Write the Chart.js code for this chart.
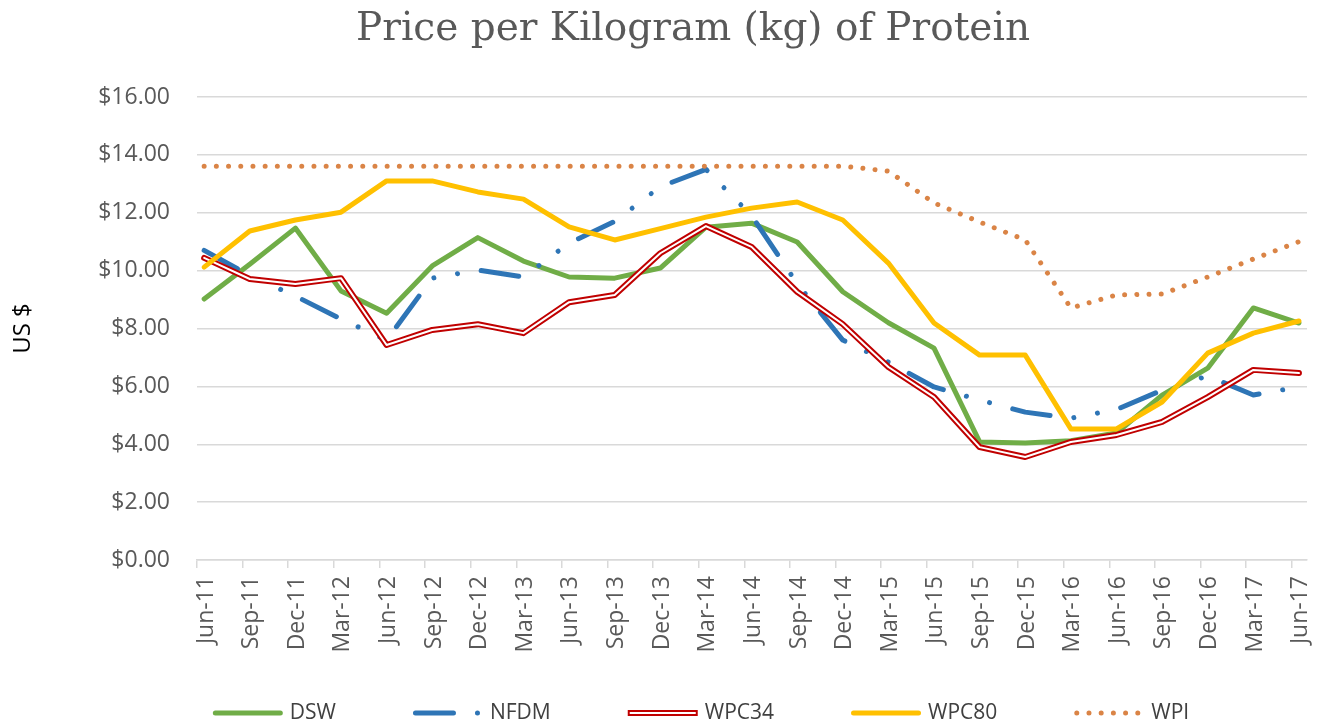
<!DOCTYPE html>
<html>
<head>
<meta charset="utf-8">
<title>Price per Kilogram (kg) of Protein</title>
<script src="https://cdn.jsdelivr.net/npm/chart.js@4.4.1/dist/chart.umd.min.js"></script>
<style>
  html, body { margin: 0; padding: 0; background: #fff; }
</style>
</head>
<body>
<canvas id="proteinChart" width="1320" height="726"></canvas>
<script>
const chartTitle = "Price per Kilogram (kg) of Protein";
const quarters = ["Jun-11", "Sep-11", "Dec-11", "Mar-12", "Jun-12", "Sep-12", "Dec-12", "Mar-13",
    "Jun-13", "Sep-13", "Dec-13", "Mar-14", "Jun-14", "Sep-14", "Dec-14", "Mar-15", "Jun-15",
    "Sep-15", "Dec-15", "Mar-16", "Jun-16", "Sep-16", "Dec-16", "Mar-17", "Jun-17"];
const yTicks = [0, 2, 4, 6, 8, 10, 12, 14, 16];

const dsw = [9.02, 10.22, 11.47, 9.30, 8.53, 10.16, 11.14, 10.33, 9.78, 9.74, 10.09, 11.50, 11.64,
    10.99, 9.27, 8.20, 7.32, 4.08, 4.04, 4.12, 4.39, 5.70, 6.63, 8.71, 8.19];
const nfdm = [10.70, 9.83, 9.12, 8.33, 7.60, 9.74, 10.02, 9.78, 10.95, 11.70, 12.90, 13.50, 11.90,
    9.55, 7.60, 6.84, 5.98, 5.53, 5.11, 4.90, 5.20, 5.87, 6.36, 5.70, 5.98];
const wpc34 = [10.44, 9.71, 9.54, 9.74, 7.43, 7.95, 8.15, 7.84, 8.91, 9.16, 10.60, 11.54, 10.82,
    9.27, 8.15, 6.67, 5.63, 3.90, 3.56, 4.08, 4.32, 4.77, 5.63, 6.57, 6.46];
const wpc80 = [10.12, 11.37, 11.75, 12.02, 13.10, 13.10, 12.72, 12.47, 11.51, 11.06, 11.45, 11.85,
    12.16, 12.37, 11.75, 10.26, 8.19, 7.08, 7.08, 4.53, 4.53, 5.46, 7.15, 7.84, 8.26];
const wpi = [13.61, 13.61, 13.61, 13.61, 13.61, 13.61, 13.61, 13.61, 13.61, 13.61, 13.61, 13.61,
    13.61, 13.61, 13.61, 13.44, 12.34, 11.68, 11.06, 8.71, 9.16, 9.19, 9.78, 10.40, 11.00];

// x axis counts months from Jun 2011; each value is dated mid-month of its quarter
const monthsPerQuarter = 3;
const midMonth = 0.47;
const toPoints = (values) => values.map((v, i) => ({ x: i * monthsPerQuarter + midMonth, y: v }));

const titlePlugin = {
    id: "excelTitle",
    afterDraw(chart) {
        const ctx = chart.ctx;
        ctx.save();
        ctx.font = '39px "DejaVu Serif"';
        ctx.fillStyle = "#595959";
        ctx.textAlign = "center";
        ctx.textBaseline = "alphabetic";
        ctx.fillText(chartTitle, 693, 40);
        ctx.restore();
    }
};

const legendPlugin = {
    id: "lineLegend",
    afterDraw(chart) {
        const ctx = chart.ctx;
        const sets = chart.data.datasets;
        const items = sets.filter(d => !d.helper);
        const sample = 70, textGap = 7, itemGap = 77, y = 713;
        ctx.save();
        ctx.font = '21px "Open Sans"';
        const widths = items.map(d => sample + textGap + ctx.measureText(d.label).width);
        const total = widths.reduce((a, b) => a + b, 0) + itemGap * (items.length - 1);
        let x = 701 - total / 2;
        items.forEach((d, i) => {
            const inner = sets.find(s => s.helper && s.label === d.label);
            const w = d.borderWidth;
            ctx.setLineDash(d.borderDash || []);
            ctx.lineWidth = w;
            ctx.strokeStyle = d.borderColor;
            ctx.lineCap = inner ? "butt" : "round";
            ctx.beginPath();
            ctx.moveTo(x + (inner ? 0 : w / 2), y);
            ctx.lineTo(x + sample - (inner ? 0 : w / 2), y);
            ctx.stroke();
            if (inner) {
                ctx.lineWidth = inner.borderWidth;
                ctx.strokeStyle = inner.borderColor;
                ctx.beginPath();
                ctx.moveTo(x + 2, y);
                ctx.lineTo(x + sample - 2, y);
                ctx.stroke();
            }
            ctx.setLineDash([]);
            ctx.fillStyle = "#404040";
            ctx.textAlign = "left";
            ctx.textBaseline = "middle";
            ctx.fillText(d.label, x + sample + textGap, y);
            x += widths[i] + itemGap;
        });
        ctx.restore();
    }
};

const ctx = document.getElementById("proteinChart").getContext("2d");
new Chart(ctx, {
    type: "line",
    data: {
        datasets: [
            { label: "DSW", data: toPoints(dsw), borderColor: "#70AD47", borderWidth: 5, order: 5 },
            { label: "NFDM", data: toPoints(nfdm), borderColor: "#2E75B6", borderWidth: 5,
              borderDash: [38, 24, 0.001, 24, 0.001, 24], order: 4 },
            { label: "WPC34", data: toPoints(wpc34), borderColor: "#C00000", borderWidth: 6, order: 3 },
            { label: "WPC34", data: toPoints(wpc34), borderColor: "#FFFFFF", borderWidth: 2, order: 2, helper: true },
            { label: "WPC80", data: toPoints(wpc80), borderColor: "#FFC000", borderWidth: 5, order: 1 },
            { label: "WPI", data: toPoints(wpi), borderColor: "#DA8446", borderWidth: 5,
              borderDash: [0.001, 12.2], order: 0 }
        ]
    },
    options: {
        responsive: false,
        animation: false,
        devicePixelRatio: 1,
        layout: { padding: { top: 97, right: 13, bottom: 0, left: 0 } },
        elements: {
            point: { radius: 0, hoverRadius: 0 },
            line: { tension: 0, fill: false, borderCapStyle: "round", borderJoinStyle: "round" }
        },
        plugins: {
            legend: { display: false },
            title: { display: false },
            tooltip: { enabled: false }
        },
        scales: {
            x: {
                type: "linear",
                min: 0,
                max: 73,
                afterFit(scale) {
                    scale.height = 166;
                    scale.paddingLeft = 0;
                    scale.paddingRight = 0;
                },
                grid: { drawOnChartArea: false, drawTicks: true, tickLength: 8, color: "#D9D9D9", lineWidth: 1.5 },
                border: { display: true, color: "#D9D9D9", width: 1.5 },
                ticks: {
                    stepSize: monthsPerQuarter,
                    includeBounds: false,
                    maxTicksLimit: 40,
                    autoSkip: false,
                    minRotation: 90,
                    maxRotation: 90,
                    padding: 8,
                    labelOffset: 9,
                    color: "#595959",
                    font: { family: "Open Sans", size: 23 },
                    callback: (value) => quarters[value / monthsPerQuarter]
                }
            },
            y: {
                min: yTicks[0],
                max: yTicks[yTicks.length - 1],
                afterFit(scale) { scale.width = 197; },
                grid: { drawTicks: false, color: "#D9D9D9", lineWidth: 1.5 },
                border: { display: false },
                ticks: {
                    stepSize: yTicks[1] - yTicks[0],
                    padding: 27,
                    color: "#595959",
                    font: { family: "Open Sans", size: 23 },
                    callback: (value) => "$" + value.toFixed(2)
                },
                title: {
                    display: true,
                    text: "US $",
                    color: "#000000",
                    font: { family: "Open Sans", size: 24 },
                    padding: { top: 9, bottom: 0 }
                }
            }
        }
    },
    plugins: [titlePlugin, legendPlugin]
});
</script>
</body>
</html>
